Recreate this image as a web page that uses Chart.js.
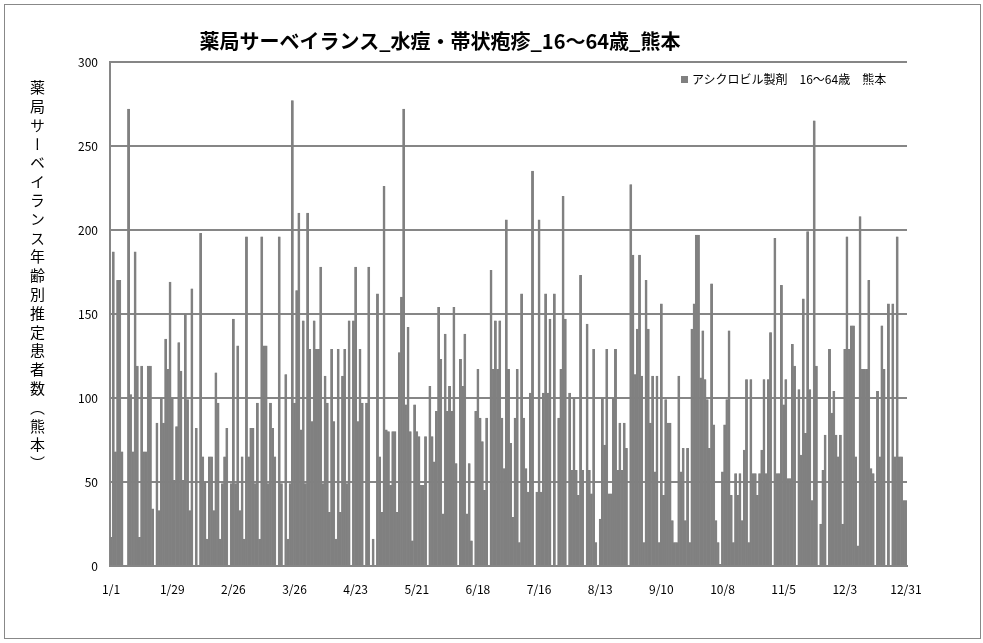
<!DOCTYPE html>
<html>
<head>
<meta charset="utf-8">
<script src="https://cdn.jsdelivr.net/npm/chart.js@4.4.0/dist/chart.umd.min.js"></script>
<style>
  body { margin: 0; background: #fff; }
  #wrap { position: relative; width: 983px; height: 643px; }
  #frame { position: absolute; left: 4px; top: 4px; width: 975px; height: 633px; border: 1px solid #888; }
  #title { position: absolute; left: 0; top: 26px; width: 880px; text-align: center;
           font: bold 20px "Noto Sans CJK JP", sans-serif; color: #000; }
  #ytitle { position: absolute; left: 27px; top: 80px; height: 420px; writing-mode: vertical-rl;
            font: 15px "Noto Sans CJK JP", sans-serif; letter-spacing: 3.8px; color: #000; }
  #legend { position: absolute; left: 681px; top: 70px; font: 12px "Noto Sans CJK JP", sans-serif;
            color: #000; white-space: pre; background: #fff; }
  #legend span { display: inline-block; width: 7px; height: 7px; background: #808080; margin-right: 4px; vertical-align: 1px; }
  canvas { position: absolute; left: 0; top: 0; }
</style>
</head>
<body>
<div id="wrap">
  <div id="frame"></div>
  <canvas id="chart" width="983" height="643"></canvas>
  <div id="title">薬局サーベイランス_水痘・帯状疱疹_16～64歳_熊本</div>
  <div id="ytitle">薬局サーベイランス年齢別推定患者数（熊本）</div>
  <div id="legend"><span></span>アシクロビル製剤　16～64歳　熊本</div>
</div>
<script>
// daily estimated patients, 1/1 - 12/31
const patients = [
  17,187,68,170,170,68,0,0,272,102,68,187,119,17,119,68,68,119,119,34,0,85,33,100,85,135,117,169,
  100,51,83,133,116,51,150,99,33,165,0,82,0,198,65,50,16,65,65,33,115,97,16,49,65,82,0,49,147,49,
  131,33,65,16,196,65,82,82,49,97,16,196,131,131,49,97,82,65,0,196,49,0,114,16,49,277,97,164,210,81,146,
  49,210,129,86,146,129,129,178,49,113,97,32,129,86,16,129,32,113,129,49,146,0,146,178,86,129,97,0,97,178,
  0,16,0,162,65,32,226,81,80,48,80,80,32,127,160,272,96,142,80,15,96,80,77,48,48,77,0,107,77,62,92,
  154,123,31,138,92,107,92,154,61,0,123,107,138,31,61,15,0,92,117,88,74,45,88,0,176,117,146,117,146,88,58,
  206,117,73,29,88,117,14,162,88,58,44,103,235,0,44,206,44,103,162,103,147,0,162,0,88,117,220,147,0,103,57,
  100,57,42,173,57,0,144,57,43,129,14,0,28,100,72,129,43,43,100,129,57,85,57,85,70,0,227,185,114,141,
  185,113,14,170,141,85,113,56,113,14,156,42,99,85,85,27,14,14,113,56,70,27,70,14,141,156,197,197,112,140,
  111,99,70,168,84,27,14,1,56,84,99,140,42,14,55,42,55,27,69,111,14,111,55,55,42,55,69,111,55,111,139,
  0,195,55,55,167,96,111,52,52,132,119,0,105,66,159,79,199,105,39,265,119,0,25,57,78,0,129,91,104,78,65,
  78,25,129,196,129,143,143,65,12,208,117,117,117,170,58,55,0,104,65,143,117,0,156,0,156,65,196,65,65,39,39
];
const tickLabels = ['1/1','1/29','2/26','3/26','4/23','5/21','6/18','7/16','8/13','9/10','10/8','11/5','12/3','12/31'];
const monthDays = [31,28,31,30,31,30,31,31,30,31,30,31];

const days = [];
monthDays.forEach((n, m) => { for (let d = 1; d <= n; d++) days.push((m + 1) + '/' + d); });

const gridColor = '#868686';
const font = { family: '"Noto Sans CJK JP", sans-serif', size: 12 };

new Chart(document.getElementById('chart').getContext('2d'), {
  type: 'bar',
  data: {
    labels: days,
    datasets: [{
      label: 'アシクロビル製剤　16～64歳　熊本',
      data: patients,
      backgroundColor: '#808080',
      borderColor: '#808080',
      borderWidth: 0.4,
      barPercentage: 1,
      categoryPercentage: 1
    }]
  },
  options: {
    responsive: false,
    animation: false,
    layout: { padding: { left: 70, right: 76, top: 62, bottom: 47 } },
    plugins: {
      legend: { display: false },
      tooltip: { enabled: false }
    },
    scales: {
      x: {
        grid: { display: false },
        border: { color: gridColor, width: 2 },
        afterFit: s => { s.height = 30; },
        ticks: {
          autoSkip: false, maxRotation: 0, color: '#000', font: font, padding: 8,
          callback: function (v) { const l = this.getLabelForValue(v); return tickLabels.includes(l) ? l : null; }
        }
      },
      y: {
        min: 0, max: 300,
        afterFit: s => { s.width = 40; },
        grid: { color: gridColor, lineWidth: 2, drawTicks: false },
        border: { color: gridColor, width: 2 },
        ticks: { stepSize: 50, color: '#000', font: font, padding: 12 }
      }
    }
  }
});
</script>
</body>
</html>
